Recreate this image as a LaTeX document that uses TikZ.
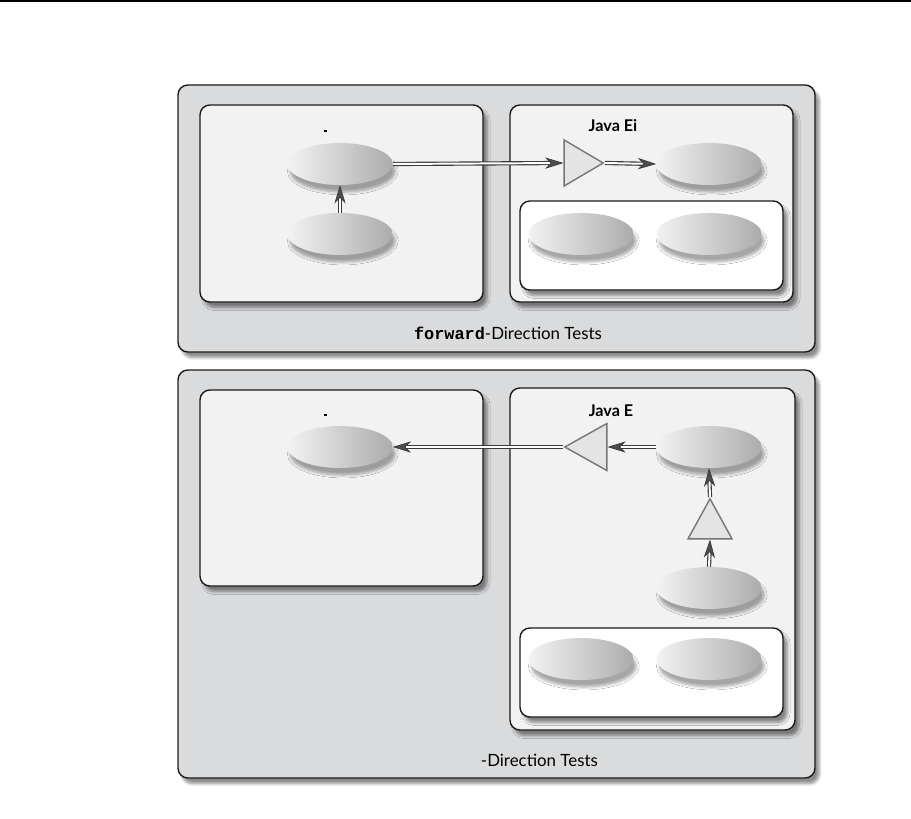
\documentclass[tikz,border=0pt]{standalone}
\usepackage{fontspec}
\setmainfont{Lato}
\setmonofont{Liberation Mono}
\usetikzlibrary{arrows.meta,shapes.geometric,shadows.blur}
\definecolor{dtOuter}{HTML}{DADBDD}
\definecolor{dtInner}{HTML}{F2F2F2}
\definecolor{dtEdge}{HTML}{1A1A1A}
\definecolor{dtTri}{HTML}{E4E4E4}
\definecolor{dtTriEdge}{HTML}{767676}
\definecolor{dtLink}{HTML}{3A3A3A}
\tikzset{
  dt box/.style={draw=dtEdge, line width=1pt, rounded corners=7pt, blur shadow={shadow xshift=3pt, shadow yshift=-4pt, shadow blur steps=6, shadow opacity=45}},
  dt outer/.style={dt box, fill=dtOuter},
  dt inner/.style={dt box, fill=dtInner},
  dt white/.style={dt box, fill=white},
  dt bean/.style={ellipse, minimum width=2.625cm, minimum height=1.05cm, inner sep=0pt, left color=gray!10, right color=gray!65, blur shadow={shadow xshift=2pt, shadow yshift=-5pt, shadow blur steps=6, shadow opacity=35}},
  dt amp/.style={isosceles triangle, isosceles triangle stretches, inner sep=0pt, draw=dtTriEdge, fill=dtTri, line width=1pt},
  dt link/.style={draw=dtLink, double=white, double distance=1.4pt, line width=0.8pt, -{Stealth[length=13pt, width=8pt, inset=4pt, fill=gray!60!black, line width=0.5pt]}},
  dt label/.style={font=\fontsize{12}{14}\selectfont, text=black},
  dt tag/.style={font=\bfseries\fontsize{11.5}{12}\selectfont, text=black},
}

\begin{document}
\begin{tikzpicture}[x=0.025cm, y=-0.025cm]
  \useasboundingbox (0,0) rectangle (911,819);
  \draw[line width=1.1pt] (0,1) -- (911,1);

  % forward-direction panel
  \draw[dt outer] (178,85) rectangle (815,352);
  \draw[dt inner] (200,105) rectangle (483,302);
  \draw[dt inner] (510,105) rectangle (793,302);
  \draw[dt white] (520,201) rectangle (783,290);
  \fill (324,130) rectangle (327,132);
  \node[dt tag] (jfwd) at (613,126) {Java Ei};

  \node[dt bean] (lfwdtop) at (340,164) {};
  \node[dt bean] (lfwdbot) at (340,234) {};
  \node[dt bean] (rfwdtop) at (709,164) {};
  \node[dt bean] (wfwdl) at (581,234) {};
  \node[dt bean] (wfwdr) at (709,234) {};
  \node[dt amp, minimum height=0.975cm, minimum width=1.15cm, anchor=apex] (ampfwd) at (605,163) {};

  \draw[dt link] (lfwdtop.east) -- (ampfwd.west);
  \draw[dt link] (ampfwd.apex) -- (rfwdtop.west);
  \draw[dt link] (lfwdbot.north) -- (lfwdtop.south);

  \node[dt label] (fwdlabel) at (508,333) {\texttt{\textbf{forward}}-Direction Tests};

  % backward-direction panel
  \draw[dt outer] (178,370) rectangle (815,778);
  \draw[dt inner] (200,390) rectangle (483,586);
  \draw[dt inner] (510,388) rectangle (795,730);
  \draw[dt white] (520,628) rectangle (783,717);
  \fill (324,414) rectangle (327,416);
  \node[dt tag] (jbwd) at (611,411) {Java E};

  \node[dt bean] (lbwdtop) at (340,447) {};
  \node[dt bean] (rbwdtop) at (709,447) {};
  \node[dt bean] (rbwdbot) at (709,588) {};
  \node[dt bean] (wbwdl) at (581,659) {};
  \node[dt bean] (wbwdr) at (709,659) {};
  \node[dt amp, shape border rotate=180, minimum height=1.05cm, minimum width=1.175cm, anchor=apex] (ampbwd) at (563,447) {};
  \node[dt amp, shape border rotate=90, minimum width=1.1cm, minimum height=1cm, anchor=apex] (ampup) at (710,497) {};

  \draw[dt link] (rbwdtop.west) -- (ampbwd.east);
  \draw[dt link] (ampbwd.apex) -- (lbwdtop.east);
  \draw[dt link] (rbwdbot.north) -- (ampup.south);
  \draw[dt link] (ampup.apex) -- (rbwdtop.south);

  \node[dt label, anchor=west] (bwdlabel) at (476,760) {-Direction Tests};
\end{tikzpicture}
\end{document}
